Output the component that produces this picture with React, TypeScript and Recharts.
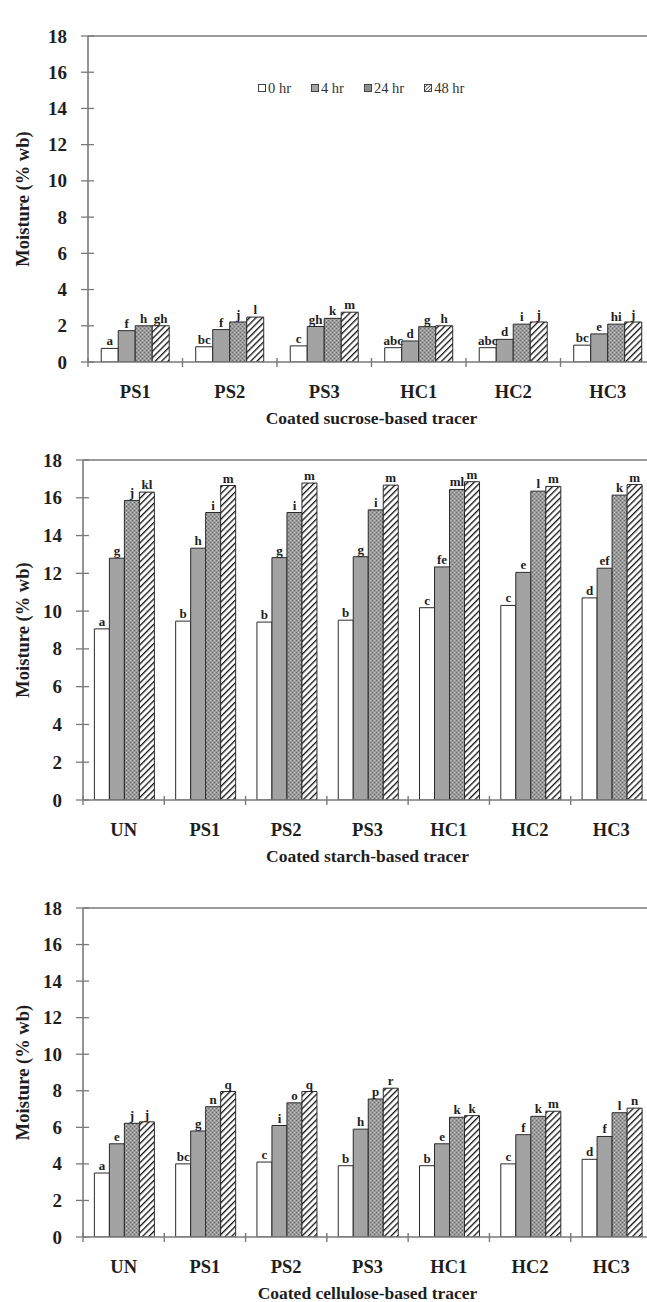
import React from 'react';
import { BarChart, Bar, XAxis, YAxis, LabelList, ReferenceLine, Legend } from 'recharts';

// ---------- data ----------
const SERIES_NAMES = ['0 hr', '4 hr', '24 hr', '48 hr'];
const Y_TICKS = [0, 2, 4, 6, 8, 10, 12, 14, 16, 18];

// Panel 1: coated sucrose-based tracer
const sucroseCategories = ['PS1', 'PS2', 'PS3', 'HC1', 'HC2', 'HC3'];
const sucrose0 = [0.75, 0.84, 0.89, 0.79, 0.79, 0.93];
const sucrose4 = [1.73, 1.79, 1.96, 1.16, 1.25, 1.55];
const sucrose24 = [2.0, 2.21, 2.41, 1.95, 2.09, 2.09];
const sucrose48 = [2.0, 2.48, 2.75, 2.0, 2.21, 2.21];
const sucroseL0 = ['a', 'bc', 'c', 'abc', 'abc', 'bc'];
const sucroseL4 = ['f', 'f', 'gh', 'd', 'd', 'e'];
const sucroseL24 = ['h', 'j', 'k', 'g', 'i', 'hi'];
const sucroseL48 = ['gh', 'l', 'm', 'h', 'j', 'j'];

// Panel 2: coated starch-based tracer
const starchCategories = ['UN', 'PS1', 'PS2', 'PS3', 'HC1', 'HC2', 'HC3'];
const starch0 = [9.06, 9.47, 9.42, 9.52, 10.18, 10.3, 10.7];
const starch4 = [12.8, 13.33, 12.83, 12.88, 12.34, 12.05, 12.27];
const starch24 = [15.86, 15.22, 15.22, 15.36, 16.44, 16.35, 16.14];
const starch48 = [16.3, 16.65, 16.78, 16.67, 16.85, 16.6, 16.7];
const starchL0 = ['a', 'b', 'b', 'b', 'c', 'c', 'd'];
const starchL4 = ['g', 'h', 'g', 'g', 'fe', 'e', 'ef'];
const starchL24 = ['j', 'i', 'i', 'i', 'ml', 'l', 'k'];
const starchL48 = ['kl', 'm', 'm', 'm', 'm', 'm', 'm'];

// Panel 3: coated cellulose-based tracer
const celluloseCategories = ['UN', 'PS1', 'PS2', 'PS3', 'HC1', 'HC2', 'HC3'];
const cellulose0 = [3.5, 4.0, 4.1, 3.9, 3.9, 4.0, 4.25];
const cellulose4 = [5.1, 5.8, 6.1, 5.9, 5.1, 5.6, 5.5];
const cellulose24 = [6.22, 7.13, 7.34, 7.55, 6.55, 6.6, 6.8];
const cellulose48 = [6.3, 7.96, 7.96, 8.14, 6.64, 6.88, 7.05];
const celluloseL0 = ['a', 'bc', 'c', 'b', 'b', 'c', 'd'];
const celluloseL4 = ['e', 'g', 'i', 'h', 'e', 'f', 'f'];
const celluloseL24 = ['j', 'n', 'o', 'p', 'k', 'k', 'l'];
const celluloseL48 = ['j', 'q', 'q', 'r', 'k', 'm', 'n'];

const buildRows = (cats: string[], a: number[], b: number[], c: number[], d: number[],
  la: string[], lb: string[], lc: string[], ld: string[]) =>
  cats.map((cat, i) => ({ cat, v0: a[i], v4: b[i], v24: c[i], v48: d[i], l0: la[i], l4: lb[i], l24: lc[i], l48: ld[i] }));

const sucroseRows = buildRows(sucroseCategories, sucrose0, sucrose4, sucrose24, sucrose48, sucroseL0, sucroseL4, sucroseL24, sucroseL48);
const starchRows = buildRows(starchCategories, starch0, starch4, starch24, starch48, starchL0, starchL4, starchL24, starchL48);
const celluloseRows = buildRows(celluloseCategories, cellulose0, cellulose4, cellulose24, cellulose48, celluloseL0, celluloseL4, celluloseL24, celluloseL48);

// ---------- styling ----------
const FONT = "'Liberation Serif', 'Times New Roman', serif";
const AXIS = '#7a7a7a';
const TEXT = '#1e1e1e';
const BAR_STROKE = '#2a2a2a';
const GRAY4 = '#a3a3a3';

const Patterns = ({ id }: { id: string }) => (
  <defs>
    <pattern id={`stip-${id}`} width="4" height="4" patternUnits="userSpaceOnUse">
      <rect width="4" height="4" fill="#9b9b9b" />
      <rect x="0" y="0" width="1" height="1" fill="#6a6a6a" />
      <rect x="2" y="2" width="1" height="1" fill="#6a6a6a" />
      <rect x="2" y="0" width="1" height="1" fill="#c4c4c4" />
      <rect x="0" y="2" width="1" height="1" fill="#bdbdbd" />
    </pattern>
    <pattern id={`hatch-${id}`} width="4.5" height="4.5" patternUnits="userSpaceOnUse" patternTransform="rotate(45)">
      <rect width="4.5" height="4.5" fill="#ffffff" />
      <line x1="0" y1="0" x2="0" y2="4.5" stroke="#111" strokeWidth="2.6" />
    </pattern>
  </defs>
);

const makeXTick = (fallbackHalf: number) => (props: any) => {
  const { x, y, payload } = props;
  const half = payload && typeof payload.offset === 'number' && payload.offset > 0 ? payload.offset : fallbackHalf;
  return (
    <g>
      <line x1={x - half} x2={x - half} y1={y - 4} y2={y + 5} stroke={AXIS} strokeWidth={1.4} />
      <text x={x} y={y + 36} textAnchor="middle" fontFamily={FONT} fontWeight="bold" fontSize={18.5} fill={TEXT}>
        {payload.value}
      </text>
    </g>
  );
};

const YTick = (props: any) => {
  const { x, y, payload } = props;
  return (
    <g>
      <line x1={x - 7} x2={x + 6} y1={y} y2={y} stroke={AXIS} strokeWidth={1.3} />
      <text x={x - 21} y={y + 6.5} textAnchor="end" fontFamily={FONT} fontWeight="bold" fontSize={19} fill={TEXT}>
        {payload.value}
      </text>
    </g>
  );
};

const YLabel = (props: any) => {
  const vb = props.viewBox || {};
  const cx = 23;
  const cy = vb.y + vb.height / 2;
  return (
    <text x={cx} y={cy} transform={`rotate(-90 ${cx} ${cy})`} textAnchor="middle" dominantBaseline="central"
      fontFamily={FONT} fontWeight="bold" fontSize={18.5} fill={TEXT}>
      Moisture (% wb)
    </text>
  );
};

const makeXTitle = (title: string) => (props: any) => {
  const vb = props.viewBox || {};
  return (
    <text x={vb.x + vb.width / 2} y={vb.y + 62} textAnchor="middle" fontFamily={FONT} fontWeight="bold"
      fontSize={17.5} fill={TEXT}>
      {title}
    </text>
  );
};

const LetterLabel = (props: any) => {
  const { x, y, width, value } = props;
  return (
    <text x={x + width / 2} y={y - 3} textAnchor="middle" fontFamily={FONT} fontWeight="bold" fontSize={13} fill={TEXT}>
      {value}
    </text>
  );
};

const Swatch = ({ kind }: { kind: number }) => (
  <svg width="8" height="8" style={{ marginRight: 2 }}>
    <defs>
      <pattern id={`lg-hatch-${kind}`} width="2.5" height="2.5" patternUnits="userSpaceOnUse" patternTransform="rotate(45)">
        <rect width="2.5" height="2.5" fill="#fff" />
        <line x1="0" y1="0" x2="0" y2="2.5" stroke="#222" strokeWidth="1.4" />
      </pattern>
    </defs>
    <rect x="0.5" y="0.5" width="7" height="7" stroke="#444" strokeWidth="1"
      fill={kind === 0 ? '#fff' : kind === 1 ? GRAY4 : kind === 2 ? '#8e8e8e' : `url(#lg-hatch-${kind})`} />
  </svg>
);

const LegendContent = () => (
  <div style={{ display: 'flex', fontFamily: FONT, fontSize: 14.5, color: '#333', whiteSpace: 'nowrap', lineHeight: '16px' }}>
    {SERIES_NAMES.map((n, i) => (
      <span key={n} style={{ marginRight: i === 3 ? 0 : 20, display: 'flex', alignItems: 'center' }}>
        <Swatch kind={i} />
        {n}
      </span>
    ))}
  </div>
);

interface PanelProps {
  id: string;
  rows: any[];
  title: string;
  top: number;
  width: number;
  height: number;
  axisWidth: number;
  xAxisHeight: number;
  legend?: boolean;
}

const Panel = ({ id, rows, title, top, width, height, axisWidth, xAxisHeight, legend }: PanelProps) => {
  const plotWidth = width - axisWidth;
  const half = plotWidth / rows.length / 2;
  return (
    <div style={{ position: 'absolute', left: 0, top }}>
      <BarChart width={width} height={height} data={rows}
        margin={{ top: 20, right: 0, bottom: 0, left: 0 }} barCategoryGap="14%" barGap={0}>
        <Patterns id={id} />
        <XAxis dataKey="cat" height={xAxisHeight} axisLine={{ stroke: AXIS, strokeWidth: 1.6 }} tickLine={false}
          tickSize={0} tickMargin={0} interval={0} tick={makeXTick(half)} label={makeXTitle(title)} />
        <YAxis width={axisWidth} domain={[0, 18]} ticks={Y_TICKS} interval={0} axisLine={{ stroke: AXIS, strokeWidth: 1.6 }}
          tickLine={false} tickSize={0} tickMargin={0} tick={<YTick />} label={<YLabel />} allowDataOverflow />
        <ReferenceLine y={18} stroke={AXIS} strokeWidth={1.4} />
        {legend && (
          <Legend verticalAlign="top" align="left" content={<LegendContent />}
            wrapperStyle={{ position: 'absolute', top: 80, left: 258, width: 'auto' }} />
        )}
        <Bar dataKey="v0" name={SERIES_NAMES[0]} fill="#ffffff" stroke={BAR_STROKE} strokeWidth={1} isAnimationActive={false}>
          <LabelList dataKey="l0" content={<LetterLabel />} />
        </Bar>
        <Bar dataKey="v4" name={SERIES_NAMES[1]} fill={GRAY4} stroke={BAR_STROKE} strokeWidth={1} isAnimationActive={false}>
          <LabelList dataKey="l4" content={<LetterLabel />} />
        </Bar>
        <Bar dataKey="v24" name={SERIES_NAMES[2]} fill={`url(#stip-${id})`} stroke={BAR_STROKE} strokeWidth={1} isAnimationActive={false}>
          <LabelList dataKey="l24" content={<LetterLabel />} />
        </Bar>
        <Bar dataKey="v48" name={SERIES_NAMES[3]} fill={`url(#hatch-${id})`} stroke={BAR_STROKE} strokeWidth={1} isAnimationActive={false}>
          <LabelList dataKey="l48" content={<LetterLabel />} />
        </Bar>
      </BarChart>
    </div>
  );
};

export default function App() {
  return (
    <div style={{ position: 'absolute', left: 0, top: 0, width: 647, height: 1302, overflow: 'hidden', background: '#fff' }}>
      <Panel id="p1" rows={sucroseRows} title="Coated sucrose-based tracer" top={0}
        width={655} height={436} axisWidth={88} xAxisHeight={74} legend />
      <Panel id="p2" rows={starchRows} title="Coated starch-based tracer" top={440}
        width={652} height={434} axisWidth={83} xAxisHeight={74} />
      <Panel id="p3" rows={celluloseRows} title="Coated cellulose-based tracer" top={888}
        width={652} height={424} axisWidth={83} xAxisHeight={75} />
    </div>
  );
}
